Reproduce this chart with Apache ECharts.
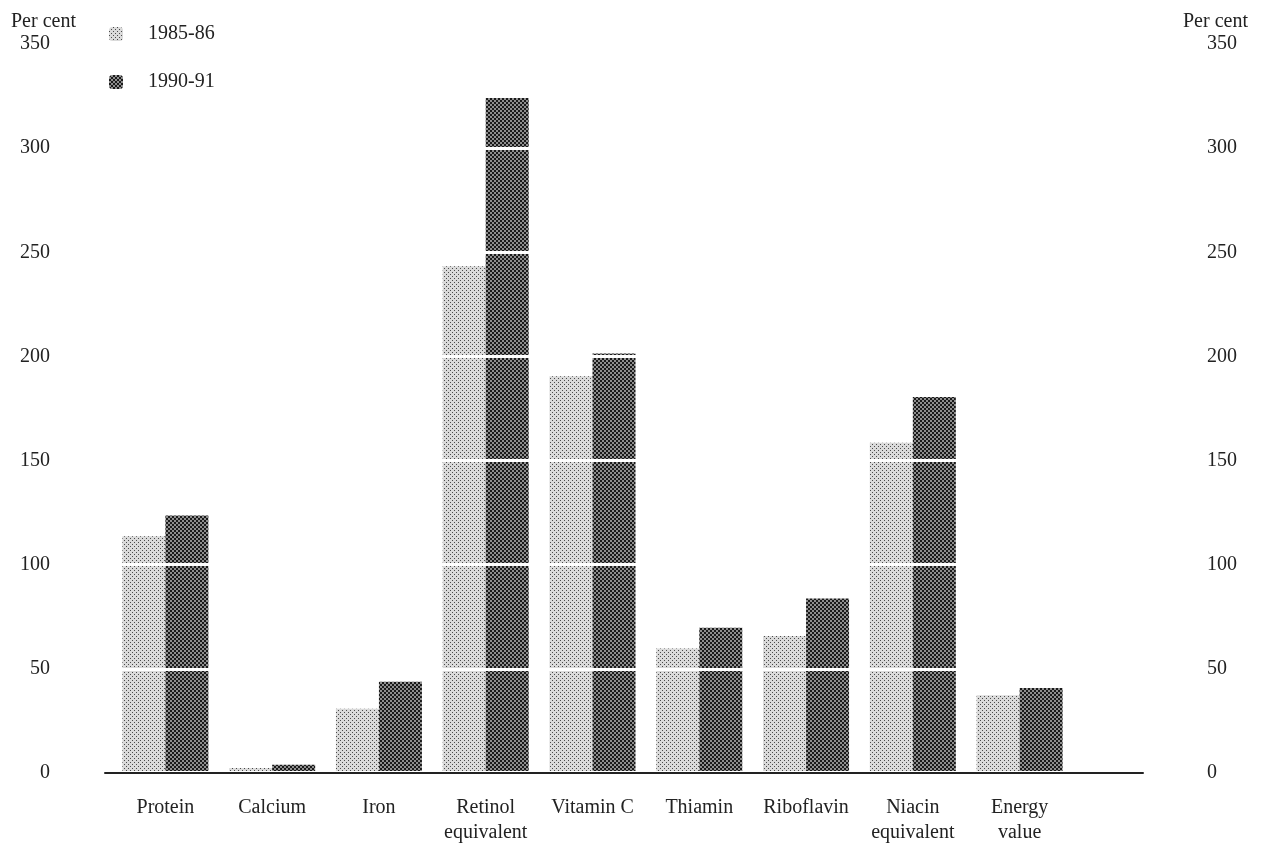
<!DOCTYPE html>
<html>
<head>
<meta charset="utf-8">
<script src="https://cdn.jsdelivr.net/npm/echarts@6/dist/echarts.min.js"></script>
<style>
  html, body { margin: 0; padding: 0; background: #fff; }
  #chart { width: 1265px; height: 845px; }
</style>
</head>
<body>
<div id="chart"></div>
<script>
// categories and values (per cent of recommended intake)
const nutrients = ['Protein', 'Calcium', 'Iron', 'Retinol\nequivalent', 'Vitamin C',
    'Thiamin', 'Riboflavin', 'Niacin\nequivalent', 'Energy\nvalue'];
const values8586 = [113, 1.5, 30, 243, 190, 59, 65, 158, 36.5];
const values9091 = [123, 3, 43, 324, 201, 69, 83, 180, 40];
const seriesNames = ['1985-86', '1990-91'];

const FONT = 'Liberation Serif';

// halftone-like fill patterns
function makePattern(bg, fg, dot) {
    const c = document.createElement('canvas');
    c.width = 4;
    c.height = 4;
    const ctx = c.getContext('2d');
    ctx.fillStyle = bg;
    ctx.fillRect(0, 0, 4, 4);
    ctx.fillStyle = fg;
    ctx.fillRect(0, 0, dot, dot);
    ctx.fillRect(2, 2, dot, dot);
    return { image: c, repeat: 'repeat' };
}
const lightFill = makePattern('#dadada', '#4a4a4a', 1);
const darkFill = makePattern('#8e8e8e', '#1a1a1a', 2);

const chart = echarts.init(document.getElementById('chart'));

const option = {
    backgroundColor: '#fff',
    animation: false,
    textStyle: { fontFamily: FONT, color: '#222' },
    title: [
        { text: 'Per cent', left: 6, top: 7, textStyle: { fontFamily: FONT, fontSize: 20, fontWeight: 'normal', color: '#222' } },
        { text: 'Per cent', left: 1178, top: 7, textStyle: { fontFamily: FONT, fontSize: 20, fontWeight: 'normal', color: '#222' } }
    ],
    legend: {
        orient: 'vertical',
        left: 104,
        top: 19,
        itemWidth: 14,
        itemHeight: 14,
        itemGap: 28,
        textStyle: { fontFamily: FONT, fontSize: 20, color: '#222', padding: [0, 0, 0, 20] },
        data: seriesNames
    },
    grid: [
        // bars
        { left: 112, right: 192, top: 44, bottom: 72 },
        // full-width frame: baseline, labels, white guide lines
        { left: 105, right: 122, top: 44, bottom: 72 }
    ],
    xAxis: [
        {
            type: 'category',
            gridIndex: 0,
            data: nutrients,
            axisLine: { show: false },
            axisTick: { show: false },
            axisLabel: {
                fontFamily: FONT,
                fontSize: 20,
                color: '#222',
                lineHeight: 25,
                margin: 24,
                interval: 0
            }
        },
        {
            type: 'value',
            gridIndex: 1,
            min: 0,
            max: 1,
            z: 6,
            axisLine: { show: true, lineStyle: { color: '#222', width: 2 } },
            axisTick: { show: false },
            axisLabel: { show: false },
            splitLine: { show: false }
        }
    ],
    yAxis: [
        {
            type: 'value',
            gridIndex: 0,
            min: 0,
            max: 350,
            interval: 50,
            show: false
        },
        {
            type: 'value',
            gridIndex: 1,
            position: 'left',
            min: 0,
            max: 350,
            interval: 50,
            z: 5,
            axisLine: { show: false },
            axisTick: { show: false },
            axisLabel: { fontFamily: FONT, fontSize: 20, color: '#222', margin: 55 },
            splitLine: { show: true, lineStyle: { color: '#fff', width: 3 } }
        },
        {
            type: 'value',
            gridIndex: 1,
            position: 'right',
            min: 0,
            max: 350,
            interval: 50,
            axisLine: { show: false },
            axisTick: { show: false },
            axisLabel: { fontFamily: FONT, fontSize: 20, color: '#222', margin: 64 },
            splitLine: { show: false }
        }
    ],
    series: [
        {
            name: seriesNames[0],
            type: 'bar',
            xAxisIndex: 0,
            yAxisIndex: 0,
            data: values8586,
            barWidth: 43,
            barGap: '0%',
            itemStyle: { color: lightFill }
        },
        {
            name: seriesNames[1],
            type: 'bar',
            xAxisIndex: 0,
            yAxisIndex: 0,
            data: values9091,
            barWidth: 43,
            barGap: '0%',
            itemStyle: { color: darkFill }
        }
    ]
};

chart.setOption(option);
</script>
</body>
</html>
